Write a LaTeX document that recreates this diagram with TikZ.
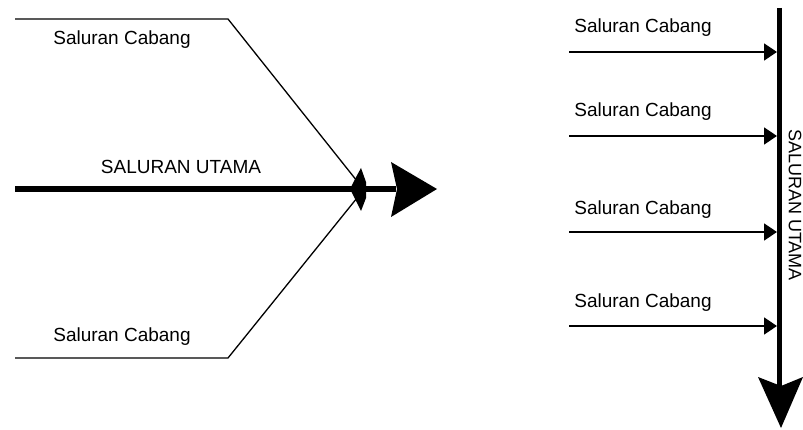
\documentclass[tikz,border=0pt]{standalone}
\usepackage{fontspec}
\setmainfont{Liberation Sans}
\usetikzlibrary{arrows.meta}
\begin{document}
\begin{tikzpicture}[x=1pt,y=-1pt,
  lbl/.style={font=\fontsize{19}{22}\selectfont, inner sep=0pt},
  thin line/.style={line width=1.3pt},
  main line/.style={line width=6pt},
  branch arrow/.style={line width=1.4pt,-{Triangle[length=13pt,width=17pt]}},
  head/.style={fill=black}]
\useasboundingbox (0,0) rectangle (803,430);
% ---------- left diagram ----------
\coordinate (tl) at (15,19);
\coordinate (tk) at (228,19);
\coordinate (tj) at (357,181);
\coordinate (bl) at (15,358);
\coordinate (bk) at (228,358);
\coordinate (bj) at (357,198);
\coordinate (ms) at (15,189);
\coordinate (me) at (396,189);
\draw[thin line] (tl) -- (tk) -- (tj);
\draw[thin line] (bl) -- (bk) -- (bj);
\draw[main line] (ms) -- (me);
\fill[head] (361,168) -- (366,182) -- (366,198) -- (361,211) -- (355,199) -- (350,189) -- (355,179) -- cycle;
\fill[head] (391,162) -- (437,189) -- (391,217) -- (397,189) -- cycle;
\node[lbl] (t1) at (122,40) {Saluran Cabang};
\node[lbl] (t2) at (181,167) {SALURAN UTAMA};
\node[lbl] (t3) at (122,337) {Saluran Cabang};
% ---------- right diagram ----------
\coordinate (vs) at (779,8);
\coordinate (ve) at (779,386);
\draw[line width=5pt] (vs) -- (ve);
\fill[head] (758,377) -- (781,428) -- (803,377) -- (781,386) -- cycle;
\foreach \y/\n in {52/a,136/b,232/c,326/d}{
  \coordinate (s\n) at (569,\y);
  \coordinate (e\n) at (777,\y);
  \draw[branch arrow] (s\n) -- (e\n);
}
\node[lbl] (r1) at (643,28) {Saluran Cabang};
\node[lbl] (r2) at (643,112) {Saluran Cabang};
\node[lbl] (r3) at (643,210) {Saluran Cabang};
\node[lbl] (r4) at (643,303) {Saluran Cabang};
\node[lbl,rotate=-90,font=\fontsize{18}{21}\selectfont] (rv) at (795,205) {SALURAN UTAMA};
\end{tikzpicture}
\end{document}
